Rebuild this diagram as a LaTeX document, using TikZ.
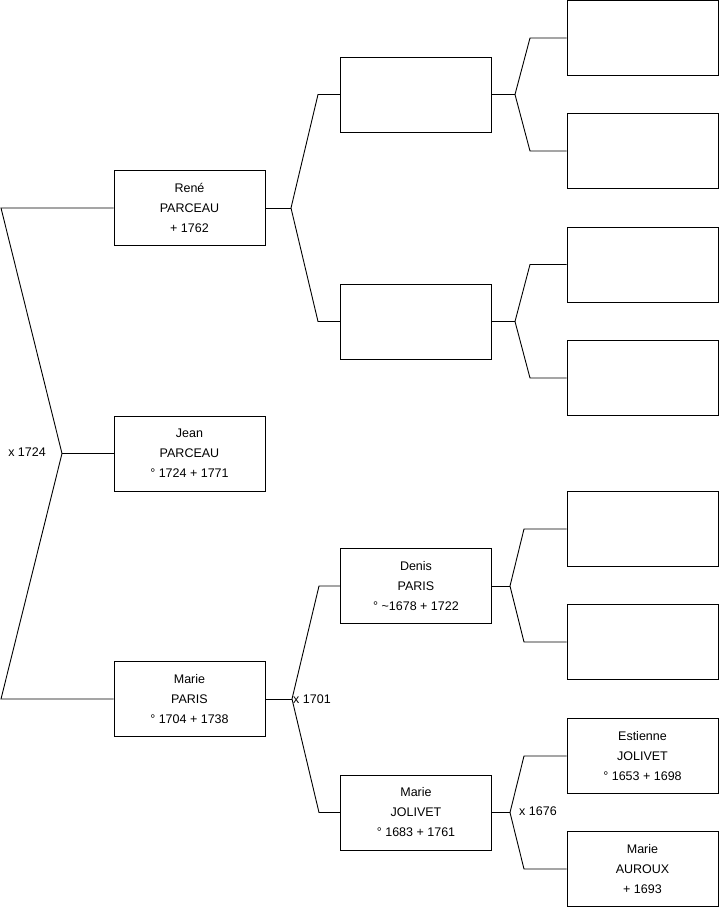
\documentclass[tikz,border=0pt]{standalone}
\usepackage{fontspec}
\setmainfont{Liberation Sans}

\tikzset{
  person/.style={draw, line width=0.9pt, minimum width=151pt, minimum height=75pt,
    inner sep=0pt, align=center, font=\fontsize{12.5}{20}\selectfont},
  link/.style={line width=0.9pt},
  wedding/.style={inner sep=1pt, font=\fontsize{12.5}{15}\selectfont}
}

\begin{document}
\begin{tikzpicture}[x=1pt,y=-1pt]
\useasboundingbox (0,0) rectangle (719,908);

% Generation 1
\node[person] (jean) at (189.5,453.5) {Jean\\PARCEAU\\° 1724 + 1771};

% Generation 2
\node[person] (rene) at (189.5,208) {René\\PARCEAU\\+ 1762};
\node[person] (mparis) at (189.5,699) {Marie\\PARIS\\° 1704 + 1738};

% Generation 3
\node[person] (gfa) at (416,94.5) {};
\node[person] (gma) at (416,321.5) {};
\node[person] (denis) at (416,586) {Denis\\PARIS\\° \textasciitilde1678 + 1722};
\node[person] (mjolivet) at (416,812.5) {Marie\\JOLIVET\\° 1683 + 1761};

% Generation 4
\node[person] (ggp1) at (642.5,38) {};
\node[person] (ggp2) at (642.5,151) {};
\node[person] (ggp3) at (642.5,264.5) {};
\node[person] (ggp4) at (642.5,378) {};
\node[person] (ggp5) at (642.5,529) {};
\node[person] (ggp6) at (642.5,642) {};
\node[person] (estienne) at (642.5,756) {Estienne\\JOLIVET\\° 1653 + 1698};
\node[person] (mauroux) at (642.5,869) {Marie\\AUROUX\\+ 1693};

% Joints
\coordinate (j0) at (62,453.5);
\coordinate (j1) at (291,208);
\coordinate (j2) at (292,699);
\coordinate (j3) at (515,94.5);
\coordinate (j4) at (515,321.5);
\coordinate (j5) at (510,586);
\coordinate (j6) at (510,812.5);

% Parents of Jean
\draw[link] (jean.west) -- (j0);
\draw[link] (rene.west) -- (1,208) -- (j0) -- (1,699) -- (mparis.west);
\node[wedding, left] (w0) at (47,452) {x 1724};

% Parents of René
\draw[link] (rene.east) -- (j1);
\draw[link] (gfa.west) -- (318,94.5) -- (j1) -- (318,321.5) -- (gma.west);

% Parents of Marie Paris
\draw[link] (mparis.east) -- (j2);
\draw[link] (denis.west) -- (319,586) -- (j2) -- (319,812.5) -- (mjolivet.west);
\node[wedding, right] (w1) at (j2) {x 1701};

% Upper great-grandparents
\draw[link] (gfa.east) -- (j3);
\draw[link] (ggp1.west) -- (530,38) -- (j3) -- (530,151) -- (ggp2.west);
\draw[link] (gma.east) -- (j4);
\draw[link] (ggp3.west) -- (530,264.5) -- (j4) -- (530,378) -- (ggp4.west);

% Lower great-grandparents
\draw[link] (denis.east) -- (j5);
\draw[link] (ggp5.west) -- (524,529) -- (j5) -- (524,642) -- (ggp6.west);
\draw[link] (mjolivet.east) -- (j6);
\draw[link] (estienne.west) -- (524,756) -- (j6) -- (524,869) -- (mauroux.west);
\node[wedding, right] (w2) at (518,811) {x 1676};

\end{tikzpicture}
\end{document}
